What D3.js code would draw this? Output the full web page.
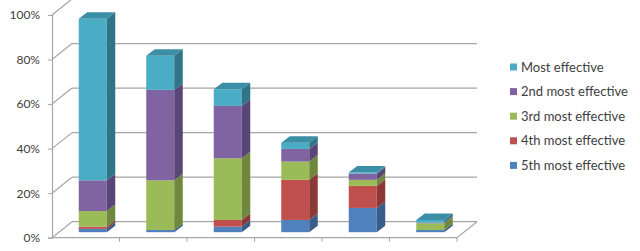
<!DOCTYPE html>
<html>
<head>
<meta charset="utf-8">
<script src="https://cdn.jsdelivr.net/npm/d3@7"></script>
<style>
  body { margin: 0; background: #fff; }
  svg { display: block; font-family: Lato, "Open Sans", sans-serif; }
</style>
</head>
<body>
<svg id="chart"></svg>
<script>
// data (percent), stacked bottom -> top
const categories = ['A', 'B', 'C', 'D', 'E', 'F'];
const fifthMost = [1.5, 1, 2.5, 5.5, 10.9, 1];
const fourthMost = [1, 0, 3, 18, 9.9, 0];
const thirdMost = [7, 22.3, 27.7, 8.2, 2.7, 3];
const secondMost = [13.8, 40.6, 23.5, 5.7, 2.8, 0.3];
const mostEffective = [72.5, 15.3, 7.5, 2.8, 0.5, 1.2];
const seriesNames = ['5th most effective', '4th most effective', '3rd most effective', '2nd most effective', 'Most effective'];
const yTicks = [0, 20, 40, 60, 80, 100];

class StackedBars3D {

  constructor(_config, _data) {
    this.config = {
      parentElement: _config.parentElement,
      containerWidth: _config.containerWidth || 640,
      containerHeight: _config.containerHeight || 251
    }
    this.data = _data;
    this.initVis();
  }

  initVis() {
    let vis = this;

    vis.svg = d3.select(vis.config.parentElement)
      .attr('width', vis.config.containerWidth)
      .attr('height', vis.config.containerHeight);

    // front plane of the plot
    vis.xScale = d3.scaleBand()
      .domain(categories)
      .range([52, 457]);

    vis.yScale = d3.scaleLinear()
      .domain([0, 100])
      .range([237.7, 15]);

    // wall depth and bar depth offsets
    vis.depth = { dx: 20, dy: -16 };
    vis.barFront = { dx: 7, dy: -5.5 };
    vis.barDepth = { dx: 8.5, dy: -6.5 };
    vis.barWidth = 28;

    vis.colors = [
      { front: '#4f81bd', side: '#385d8a', top: '#43709f' },
      { front: '#c0504d', side: '#8c3836', top: '#a84542' },
      { front: '#9bbb59', side: '#6f883d', top: '#87a44c' },
      { front: '#8064a2', side: '#5a4676', top: '#6e568c' },
      { front: '#4bacc6', side: '#2f7487', top: '#3a8ea6' }
    ];

    vis.stack = d3.stack().keys(d3.range(seriesNames.length));
    vis.renderVis();
  }

  renderVis() {
    let vis = this;
    const d = vis.depth;
    const x0 = vis.xScale.range()[0], x1 = vis.xScale.range()[1];
    const grid = '#a6a6a6';

    // back wall gridlines + side wall diagonals
    const walls = vis.svg.append('g');
    yTicks.forEach(t => {
      const y = vis.yScale(t);
      walls.append('line')
        .attr('x1', x0 + d.dx).attr('y1', y + d.dy)
        .attr('x2', x1 + d.dx).attr('y2', y + d.dy)
        .attr('stroke', grid).attr('stroke-width', 1.2);
      walls.append('line')
        .attr('x1', x0).attr('y1', y)
        .attr('x2', x0 + d.dx).attr('y2', y + d.dy)
        .attr('stroke', grid).attr('stroke-width', 1.2);
    });

    // floor outline
    const yb = vis.yScale(0);
    walls.append('path')
      .attr('d', `M${x0},${yb}L${x1},${yb}L${x1 + d.dx},${yb + d.dy}`)
      .attr('fill', 'none').attr('stroke', grid).attr('stroke-width', 1.2);

    // y axis
    vis.yAxis = d3.axisLeft(vis.yScale)
      .tickValues(yTicks)
      .tickSize(4)
      .tickPadding(8)
      .tickFormat(v => v + '%');
    const yAxisG = vis.svg.append('g')
      .attr('transform', `translate(${x0},0)`)
      .call(vis.yAxis);
    yAxisG.select('.domain').attr('stroke', grid).attr('stroke-width', 1.2);
    yAxisG.selectAll('.tick line').attr('stroke', grid);
    yAxisG.selectAll('.tick text')
      .attr('fill', '#404040')
      .style('font-size', '12px')
      .style('font-family', 'Lato, "Open Sans", sans-serif');

    // category ticks on the front floor edge
    walls.selectAll('.cat-tick')
      .data(categories.slice(1).concat(['end']))
      .join('line')
      .attr('x1', (c, i) => x0 + vis.xScale.step() * (i + 1))
      .attr('x2', (c, i) => x0 + vis.xScale.step() * (i + 1))
      .attr('y1', yb).attr('y2', yb + 4)
      .attr('stroke', grid);

    // bars
    const stacked = vis.stack(vis.data);
    const bars = vis.svg.append('g');
    const bd = vis.barDepth;
    categories.forEach((c, ci) => {
      const bx0 = vis.xScale(c) + (vis.xScale.bandwidth() - vis.barWidth) / 2 + vis.barFront.dx;
      const bx1 = bx0 + vis.barWidth;
      const g = bars.append('g');
      let topIdx = 0;
      stacked.forEach((s, si) => { if (s[ci][1] - s[ci][0] > 0) topIdx = si; });
      stacked.forEach((s, si) => {
        const v0 = s[ci][0], v1 = s[ci][1];
        if (v1 - v0 <= 0) return;
        const yA = vis.yScale(v0) + vis.barFront.dy;
        const yB = vis.yScale(v1) + vis.barFront.dy;
        const col = vis.colors[si];
        // front
        g.append('rect')
          .attr('x', bx0).attr('y', yB)
          .attr('width', bx1 - bx0).attr('height', yA - yB)
          .attr('fill', col.front);
        // side
        g.append('path')
          .attr('d', `M${bx1},${yA}L${bx1 + bd.dx},${yA + bd.dy}L${bx1 + bd.dx},${yB + bd.dy}L${bx1},${yB}Z`)
          .attr('fill', col.side);
        if (si === topIdx) {
          g.append('path')
            .attr('d', `M${bx0},${yB}L${bx1},${yB}L${bx1 + bd.dx},${yB + bd.dy}L${bx0 + bd.dx},${yB + bd.dy}Z`)
            .attr('fill', col.top);
        }
      });
    });

    // legend (top entry = last series)
    const legend = vis.svg.append('g').attr('transform', 'translate(510,67)');
    const order = d3.range(seriesNames.length).reverse();
    order.forEach((si, i) => {
      const row = legend.append('g').attr('transform', `translate(0,${i * 24.6})`);
      row.append('rect')
        .attr('x', 0).attr('y', -3.5)
        .attr('width', 7).attr('height', 7)
        .attr('fill', vis.colors[si].front);
      row.append('text')
        .attr('x', 11).attr('y', 0)
        .attr('dy', '0.35em')
        .attr('fill', '#404040')
        .style('font-size', '13px')
        .text(seriesNames[si]);
    });
  }
}

const rows = categories.map((c, i) => [fifthMost[i], fourthMost[i], thirdMost[i], secondMost[i], mostEffective[i]]);
new StackedBars3D({ parentElement: '#chart', containerWidth: 640, containerHeight: 251 }, rows);
</script>
</body>
</html>
